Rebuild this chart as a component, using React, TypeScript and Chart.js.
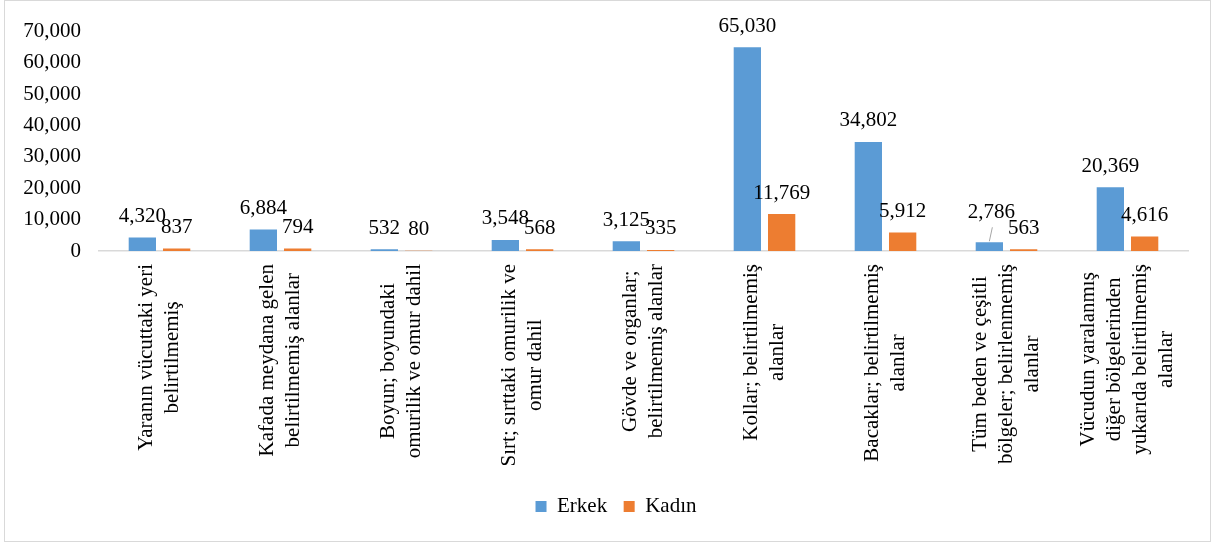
import React, { useEffect, useRef } from "react";
import { Chart, registerables } from "chart.js";

Chart.register(...registerables);

// ---- Data ----
const categories: string[][] = [
  ["Yaranın vücuttaki yeri", "belirtilmemiş"],
  ["Kafada meydana gelen", "belirtilmemiş alanlar"],
  ["Boyun; boyundaki", "omurilik ve omur dahil"],
  ["Sırt; sırttaki omurilik ve", "omur dahil"],
  ["Gövde ve organlar;", "belirtilmemiş alanlar"],
  ["Kollar; belirtilmemiş", "alanlar"],
  ["Bacaklar; belirtilmemiş", "alanlar"],
  ["Tüm beden ve çeşitli", "bölgeler; belirlenmemiş", "alanlar"],
  ["Vücudun yaralanmış", "diğer bölgelerinden", "yukarıda belirtilmemiş", "alanlar"],
];
const seriesNames = ["Erkek", "Kadın"];
const erkek = [4320, 6884, 532, 3548, 3125, 65030, 34802, 2786, 20369];
const kadin = [837, 794, 80, 568, 335, 11769, 5912, 563, 4616];
const yMin = 0;
const yMax = 70000;
const yStep = 10000;

// ---- Styles ----
const FONT = "'Times New Roman', 'Liberation Serif', serif";
const FONT_SIZE = 21;
const COLORS = ["#5B9BD5", "#ED7D31"];
const TEXT = "#000000";
const LABEL_GAP = 15.5;
const CAT_LINE_H = 26;
const CAT_PAD = 13;
const LEGEND_SHIFT = 12;
// label of Erkek / "Tüm beden" was moved up in the original, with a leader line
const leader = { dataset: 0, index: 7, lift: 9 };

const fmt = (v: number) => v.toLocaleString("en-US");

const legendShiftPlugin = {
  id: "legendShift",
  afterLayout(chart: any) {
    if (chart.legend) {
      chart.legend.left += LEGEND_SHIFT;
      chart.legend.right += LEGEND_SHIFT;
    }
  },
};

const categoryLabelPlugin = {
  id: "categoryLabels",
  afterDraw(chart: any) {
    const xs = chart.scales.x;
    const area = chart.chartArea;
    const ctx = chart.ctx as CanvasRenderingContext2D;
    ctx.save();
    ctx.font = `${FONT_SIZE}px ${FONT}`;
    ctx.fillStyle = TEXT;
    ctx.textAlign = "center";
    ctx.textBaseline = "middle";
    categories.forEach((lines, i) => {
      const x = xs.getPixelForValue(i);
      const maxW = Math.max(...lines.map((l) => ctx.measureText(l).width));
      ctx.save();
      ctx.translate(x, area.bottom + CAT_PAD);
      ctx.rotate(-Math.PI / 2);
      lines.forEach((line, j) => {
        ctx.fillText(line, -maxW / 2, (j - (lines.length - 1) / 2) * CAT_LINE_H);
      });
      ctx.restore();
    });
    ctx.restore();
  },
};

const dataLabelPlugin = {
  id: "dataLabels",
  afterDatasetsDraw(chart: any) {
    const ctx = chart.ctx as CanvasRenderingContext2D;
    ctx.save();
    ctx.font = `${FONT_SIZE}px ${FONT}`;
    ctx.fillStyle = TEXT;
    ctx.textAlign = "center";
    ctx.textBaseline = "alphabetic";
    chart.data.datasets.forEach((ds: any, di: number) => {
      const meta = chart.getDatasetMeta(di);
      meta.data.forEach((bar: any, i: number) => {
        let lift = LABEL_GAP;
        let dx = 0;
        if (di === leader.dataset && i === leader.index) {
          lift += leader.lift;
          dx = 2;
          ctx.save();
          ctx.strokeStyle = "#A6A6A6";
          ctx.lineWidth = 1;
          ctx.beginPath();
          ctx.moveTo(bar.x, bar.y - 1);
          ctx.lineTo(bar.x + 3, bar.y - 15);
          ctx.stroke();
          ctx.restore();
        }
        ctx.fillText(fmt(ds.data[i]), bar.x + dx, bar.y - lift);
      });
    });
    ctx.restore();
  },
};

export default function App() {
  const ref = useRef<HTMLCanvasElement>(null);

  useEffect(() => {
    const chart = new Chart(ref.current as HTMLCanvasElement, {
      type: "bar",
      data: {
        labels: categories.map((l) => l.join(" ")),
        datasets: [
          {
            label: seriesNames[0],
            data: erkek,
            backgroundColor: COLORS[0],
            borderWidth: 0,
            categoryPercentage: 0.567,
            barPercentage: 0.796,
          },
          {
            label: seriesNames[1],
            data: kadin,
            backgroundColor: COLORS[1],
            borderWidth: 0,
            categoryPercentage: 0.567,
            barPercentage: 0.796,
          },
        ],
      },
      options: {
        responsive: false,
        animation: false,
        layout: { padding: { left: 15, right: 22, top: 27, bottom: 14 } },
        plugins: {
          tooltip: { enabled: false },
          legend: {
            position: "bottom",
            labels: {
              boxWidth: 11,
              boxHeight: 11,
              padding: 16.5,
              color: TEXT,
              font: { family: FONT, size: FONT_SIZE },
            },
          },
        },
        scales: {
          x: {
            grid: { display: false, drawTicks: false },
            border: { display: true, color: "#D9D9D9", width: 1.5 },
            ticks: { display: false },
            afterFit: (scale: any) => {
              scale.height = 228.5;
            },
          },
          y: {
            min: yMin,
            max: yMax,
            grid: { display: false, drawTicks: false },
            border: { display: false },
            ticks: {
              stepSize: yStep,
              padding: 18,
              color: TEXT,
              font: { family: FONT, size: FONT_SIZE },
              callback: (v: any) => fmt(Number(v)),
            },
            afterFit: (scale: any) => {
              scale.width = 79;
            },
          },
        },
      },
      plugins: [legendShiftPlugin, dataLabelPlugin, categoryLabelPlugin],
    });
    return () => chart.destroy();
  }, []);

  return (
    <div
      style={{
        position: "absolute",
        left: 4,
        top: 0,
        width: 1207,
        height: 542,
        border: "1px solid #D9D9D9",
        boxSizing: "border-box",
        background: "#FFFFFF",
      }}
    >
      <canvas ref={ref} width={1205} height={540} style={{ display: "block" }} />
    </div>
  );
}
